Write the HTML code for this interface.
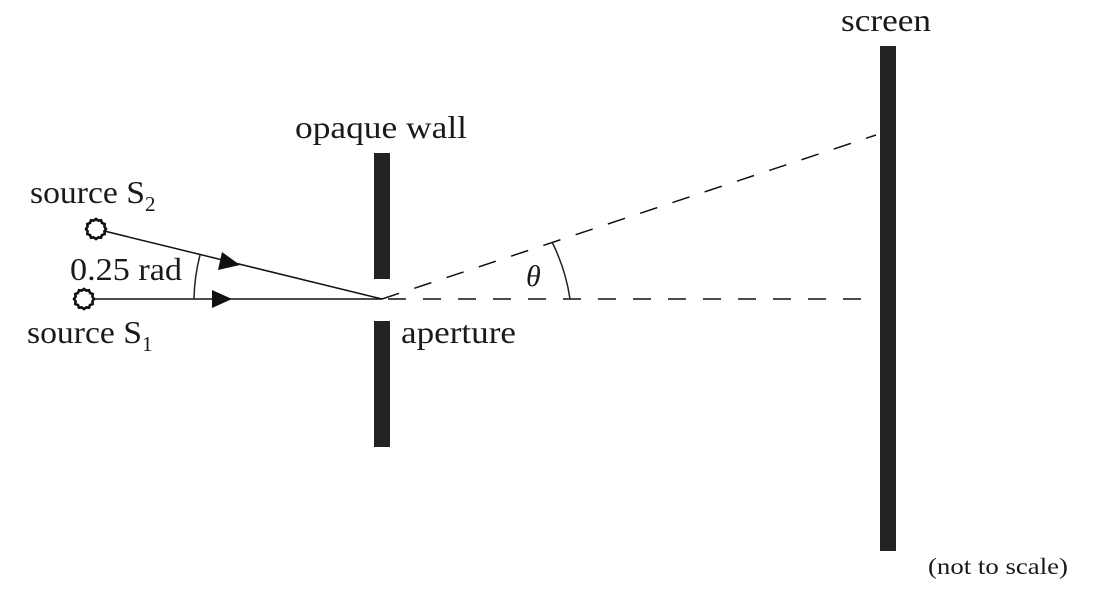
<!DOCTYPE html>
<html><head><meta charset="utf-8"><style>
html,body{margin:0;padding:0;background:#fff;}
svg{display:block;}
text{font-family:"Liberation Serif",serif;fill:#1a1a1a;}
</style></head><body>
<svg width="1108" height="608" viewBox="0 0 1108 608" xmlns="http://www.w3.org/2000/svg">
<defs>
<polygon id="star" points="10,0 8.4,2.3 8.7,5 6,6 5,8.7 2.3,8.4 0,10 -2.3,8.4 -5,8.7 -6,6 -8.7,5 -8.4,2.3 -10,0 -8.4,-2.3 -8.7,-5 -6,-6 -5,-8.7 -2.3,-8.4 0,-10 2.3,-8.4 5,-8.7 6,-6 8.7,-5 8.4,-2.3" fill="#fff" stroke="#111" stroke-width="2.6"/>
</defs>
<rect x="374" y="153" width="16" height="126" fill="#222"/>
<rect x="374" y="321" width="16" height="126" fill="#222"/>
<rect x="880" y="46" width="16" height="505" fill="#222"/>
<line x1="84" y1="299" x2="382" y2="299" stroke="#111" stroke-width="1.5"/>
<line x1="96" y1="229" x2="382" y2="299" stroke="#111" stroke-width="1.5"/>
<polygon points="212,290 232,299 212,308" fill="#111"/>
<polygon points="222,252 240,265 218,270" fill="#111"/>
<line x1="382" y1="299" x2="868" y2="299" stroke="#111" stroke-width="1.5" stroke-dasharray="18,17" stroke-dashoffset="-6"/>
<line x1="382" y1="299" x2="876" y2="135" stroke="#111" stroke-width="1.5" stroke-dasharray="18,16"/>
<path d="M570,299 A188,188 0 0 0 552,242" fill="none" stroke="#222" stroke-width="1.5"/>
<path d="M194,299 A188,188 0 0 1 200,255" fill="none" stroke="#222" stroke-width="1.5"/>
<use href="#star" x="96" y="229"/>
<use href="#star" x="84" y="299"/>
<text x="841" y="31" font-size="32" textLength="90" lengthAdjust="spacingAndGlyphs">screen</text>
<text x="295" y="138" font-size="32" textLength="172" lengthAdjust="spacingAndGlyphs">opaque wall</text>
<text x="30" y="203" font-size="32"><tspan textLength="115" lengthAdjust="spacingAndGlyphs">source S</tspan><tspan font-size="21" dy="8">2</tspan></text>
<text x="70" y="280" font-size="32" textLength="112" lengthAdjust="spacingAndGlyphs">0.25 rad</text>
<text x="27" y="343" font-size="32"><tspan textLength="115" lengthAdjust="spacingAndGlyphs">source S</tspan><tspan font-size="21" dy="8">1</tspan></text>
<text x="401" y="343" font-size="32" textLength="115" lengthAdjust="spacingAndGlyphs">aperture</text>
<text x="526" y="286" font-size="30" font-style="italic">θ</text>
<text x="928" y="574" font-size="23" textLength="140" lengthAdjust="spacingAndGlyphs">(not to scale)</text>
</svg>
</body></html>
